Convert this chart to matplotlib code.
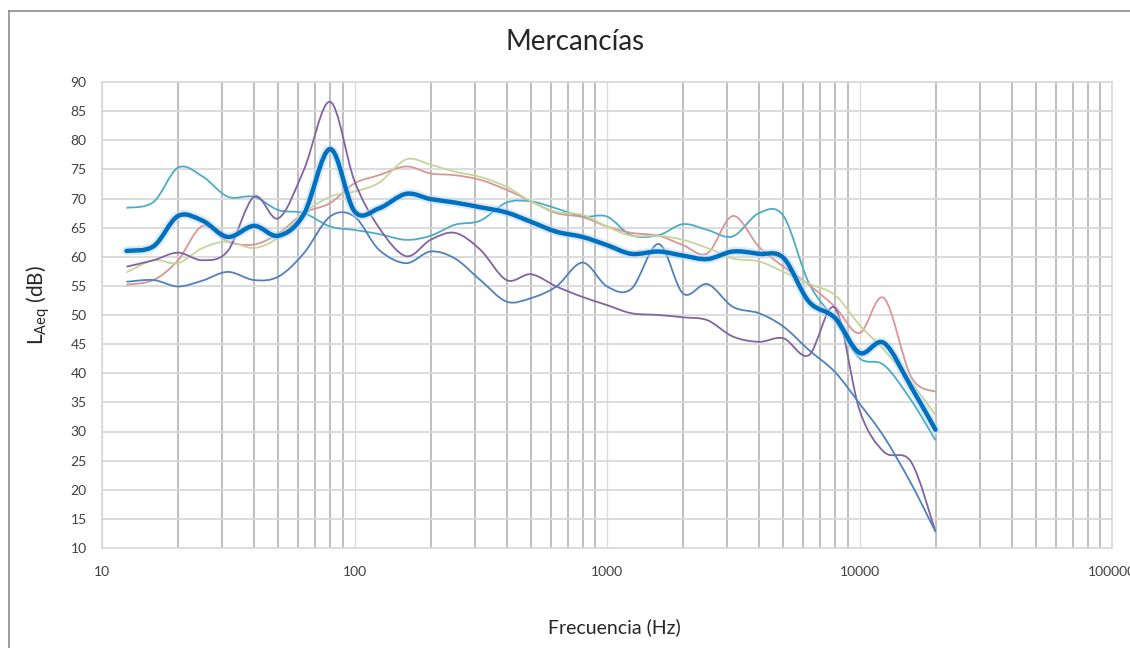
import numpy as np
import matplotlib
matplotlib.use("Agg")
import matplotlib.pyplot as plt
import matplotlib.patheffects as pe
from matplotlib.path import Path
from matplotlib.patches import PathPatch
from matplotlib.lines import Line2D
from matplotlib.ticker import NullFormatter

plt.rcParams['font.family'] = ['Lato', 'DejaVu Sans']

# third-octave bands (Hz)
freqs = [12.5, 16, 20, 25, 31.5, 40, 50, 63, 80, 100, 125, 160, 200, 250, 315, 400,
         500, 630, 800, 1000, 1250, 1600, 2000, 2500, 3150, 4000, 5000, 6300, 8000,
         10000, 12500, 16000, 20000]

promedio = [61.0, 61.8, 67.0, 66.2, 63.4, 65.3, 63.6, 67.3, 78.5, 67.8, 68.3, 70.8, 69.9,
            69.3, 68.5, 67.6, 66.0, 64.3, 63.4, 62.0, 60.5, 60.9, 60.2, 59.6, 60.9, 60.5,
            59.8, 52.3, 49.5, 43.5, 45.2, 37.7, 30.3]
teal = [68.4, 69.4, 75.3, 73.8, 70.3, 70.3, 68.0, 67.5, 65.2, 64.6, 63.9, 62.9, 63.6, 65.5,
        66.2, 69.3, 69.5, 68.3, 66.9, 66.9, 63.7, 63.7, 65.6, 64.6, 63.5, 67.5, 67.0, 55.5,
        49.1, 42.6, 41.4, 35.4, 28.5]
rojo = [55.2, 56.0, 59.4, 65.3, 62.6, 62.1, 64.0, 67.5, 69.2, 72.6, 74.0, 75.5, 74.3, 74.0,
        73.2, 71.5, 69.5, 67.5, 66.8, 65.2, 64.1, 63.6, 62.0, 60.6, 67.0, 61.7, 58.3, 55.2,
        51.4, 46.9, 52.9, 39.4, 36.8]
verde = [57.3, 59.4, 58.9, 61.5, 62.6, 61.5, 63.3, 67.5, 70.3, 71.2, 72.7, 76.7, 75.8, 74.6,
         73.7, 72.0, 69.5, 67.7, 67.2, 65.2, 63.6, 63.6, 62.9, 61.5, 59.7, 59.2, 57.4, 55.4,
         53.4, 48.3, 44.0, 38.5, 32.8]
morado = [58.3, 59.4, 60.7, 59.4, 61.0, 70.3, 66.6, 74.9, 86.6, 73.0, 65.0, 60.1, 62.9, 64.1,
          61.2, 56.0, 57.0, 54.9, 53.1, 51.7, 50.3, 50.0, 49.6, 49.1, 46.3, 45.4, 46.0, 43.1,
          51.2, 33.7, 26.5, 24.8, 12.8]
azul = [55.7, 56.0, 54.9, 55.9, 57.4, 56.0, 56.6, 60.6, 66.9, 66.9, 61.2, 58.9, 60.9, 59.7,
        56.0, 52.3, 52.9, 54.9, 59.0, 54.9, 54.5, 62.2, 53.7, 55.3, 51.4, 50.3, 48.0, 44.0,
        40.2, 34.8, 29.1, 21.1, 12.8]


def smooth_path(xs, ys):
    # Excel-like smoothed line as cubic Bezier segments, built in log-x space
    lx = np.log10(xs)
    ys = np.asarray(ys, float)
    n = len(lx)
    verts = [(xs[0], ys[0])]
    codes = [Path.MOVETO]
    for i in range(n - 1):
        i0, i3 = max(i - 1, 0), min(i + 2, n - 1)
        c1x = lx[i] + (lx[i + 1] - lx[i0]) / 6
        c1y = ys[i] + (ys[i + 1] - ys[i0]) / 6
        c2x = lx[i + 1] - (lx[i3] - lx[i]) / 6
        c2y = ys[i + 1] - (ys[i3] - ys[i]) / 6
        verts += [(10 ** c1x, c1y), (10 ** c2x, c2y), (xs[i + 1], ys[i + 1])]
        codes += [Path.CURVE4] * 3
    return Path(verts, codes)


fig = plt.figure(figsize=(11.3, 6.48), dpi=100)
ax = fig.add_axes([102 / 1130, 1 - 548 / 648, 1010 / 1130, 466 / 648])
ax.set_xscale('log')
ax.set_xlim(10, 100000)
ax.set_ylim(10, 90)

series = [(teal, '#4BACC6'), (rojo, '#D99694'), (verde, '#C3D69B'),
          (morado, '#8064A2'), (azul, '#4F81BD')]
for vals, col in series:
    ax.add_patch(PathPatch(smooth_path(freqs, vals), fill=False, edgecolor=col,
                           lw=1.3, zorder=3))

main = PathPatch(smooth_path(freqs, promedio), fill=False, edgecolor='#0070C0',
                 lw=3.2, zorder=4, capstyle='round', joinstyle='round')
main.set_path_effects([pe.Stroke(linewidth=6.5, foreground='#BDD7EE', alpha=0.5),
                       pe.Normal()])
ax.add_patch(main)

# grid
ax.set_yticks(np.arange(10, 91, 5))
decades = [10, 100, 1000, 10000, 100000]
ax.set_xticks(decades, labels=[str(d) for d in decades])
minors = [m * d for d in decades[:-1] for m in range(2, 10)]
ax.set_xticks(minors, minor=True)
ax.xaxis.set_minor_formatter(NullFormatter())
ax.grid(axis='y', color='#D9D9D9', lw=1.3, zorder=0)
ax.grid(axis='x', which='major', color='#DCDCDC', lw=1.0, zorder=0)
ax.grid(axis='x', which='minor', color='#BEBEBE', lw=1.4, zorder=0)
ax.set_axisbelow(True)
for s in ax.spines.values():
    s.set_color('#D9D9D9')
    s.set_linewidth(1.2)
ax.tick_params(which='both', length=0, labelsize=10, colors='#404040')
ax.tick_params(axis='x', pad=13)
ax.tick_params(axis='y', pad=11)

fig.text(575 / 1130, 1 - 42 / 648, 'Mercancías', fontsize=20, color='#262626',
         ha='center', va='center')
fig.text(38 / 1130, 1 - 305 / 648, r'L$_{\mathregular{Aeq}}$ (dB)', fontsize=15,
         color='#262626', rotation=90, ha='center', va='center')
fig.text(614 / 1130, 1 - 627 / 648, 'Frecuencia (Hz)', fontsize=14, color='#262626',
         ha='center', va='center')

# chart area border
bx, by = 9 / 1130, 1 - 11 / 648
fig.add_artist(Line2D([bx, bx], [0, by], color='#8C8C8C', lw=1.2))
fig.add_artist(Line2D([bx, 1], [by, by], color='#8C8C8C', lw=1.2))

fig.savefig('out.png', dpi=100)
